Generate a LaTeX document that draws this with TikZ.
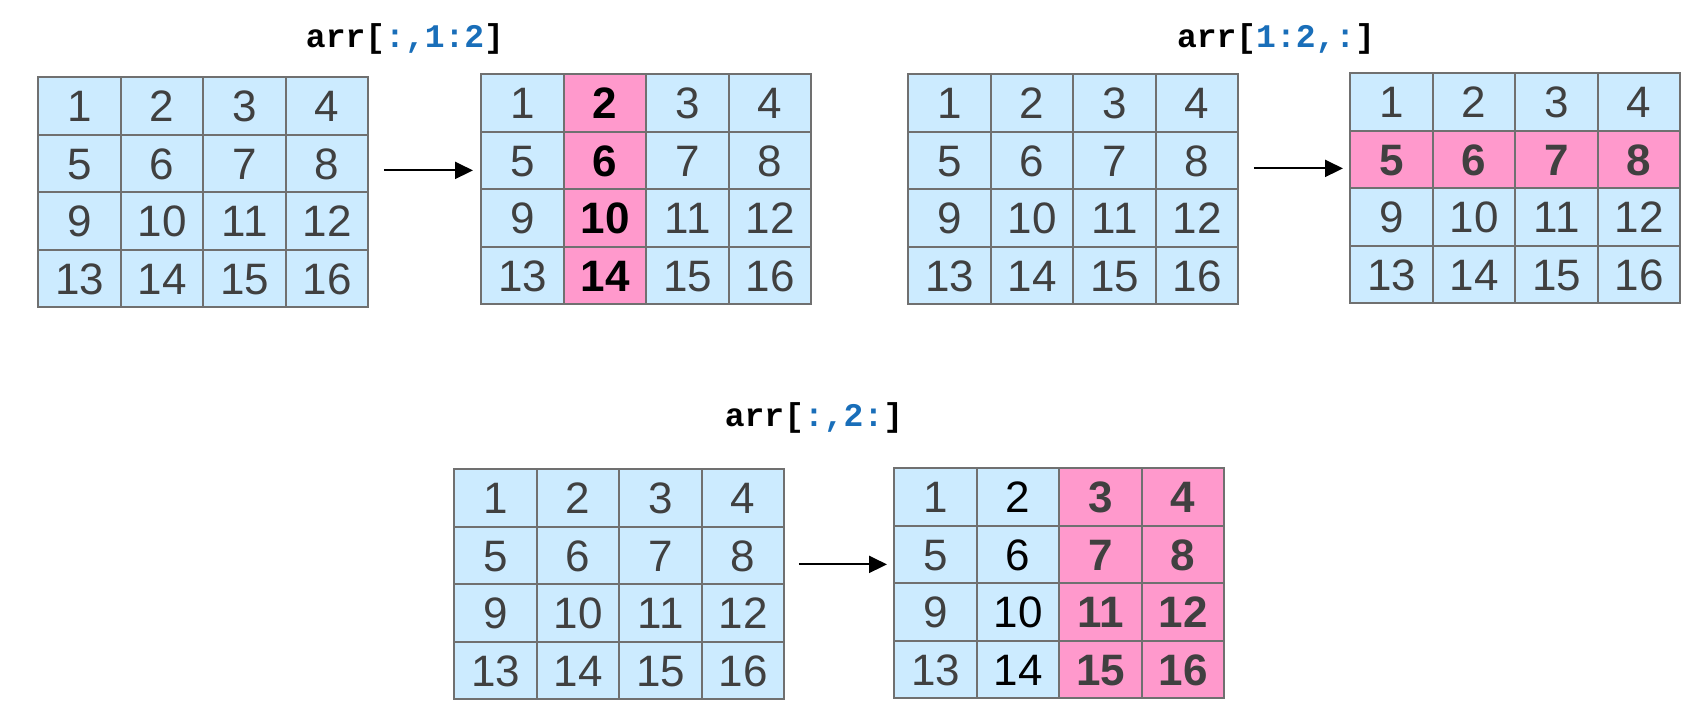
\documentclass[tikz,border=0pt]{standalone}
\usepackage{fontspec}
\setmainfont{Liberation Sans}
\newfontfamily\slicefont{Liberation Mono}
\usetikzlibrary{matrix,arrows.meta}
\definecolor{cellblue}{RGB}{204,235,255}
\definecolor{cellpink}{RGB}{255,153,204}
\definecolor{cellline}{RGB}{112,112,112}
\definecolor{numgray}{RGB}{64,64,64}
\definecolor{sliceblue}{RGB}{25,110,185}
\newcommand{\slicepart}[1]{\textcolor{sliceblue}{#1}}
\begin{document}
\begin{tikzpicture}[x=0.5pt, y=0.5pt,
		numgrid/.style={matrix of nodes, matrix anchor=north west, inner sep=0pt,
			column sep=-1pt, row sep=-1pt,
			nodes={draw=cellline, line width=1pt, fill=cellblue,
				minimum width=41.25pt, minimum height=28.75pt, inner sep=0pt,
				text height=15.8pt, text depth=0pt, anchor=center,
				text=numgray, font=\fontsize{22}{22}\selectfont}},
		pick/.style={fill=cellpink, font=\fontsize{22}{22}\selectfont\bfseries},
		pickdark/.style={pick, text=black},
		slice/.style={font=\fontsize{16.5}{16.5}\selectfont\slicefont\bfseries},
		slicearrow/.style={-{Triangle[length=9pt,width=8.5pt]}, line width=1pt}]
		\useasboundingbox (0,0) rectangle (1706,-726);
		% arr[:,1:2]
		\node[slice] (t1) at (405,-39) {arr[\slicepart{:,1:2}]};
		\matrix (a1) [numgrid] at (37,-76) {
			1 & 2 & 3 & 4 \\
			5 & 6 & 7 & 8 \\
			9 & 10 & 11 & 12 \\
			13 & 14 & 15 & 16 \\
		};
		\matrix (a2) [numgrid] at (480,-73) {
			1 & |[pickdark]| 2 & 3 & 4 \\
			5 & |[pickdark]| 6 & 7 & 8 \\
			9 & |[pickdark]| 10 & 11 & 12 \\
			13 & |[pickdark]| 14 & 15 & 16 \\
		};
		\coordinate (p1) at ([shift={(14,22)}]a1.east);
		\draw[slicearrow] (p1) -- ([xshift=-3.5pt]a2.west |- p1);
		% arr[1:2,:]
		\node[slice] (t2) at (1276,-39) {arr[\slicepart{1:2,:}]};
		\matrix (a3) [numgrid] at (907,-73) {
			1 & 2 & 3 & 4 \\
			5 & 6 & 7 & 8 \\
			9 & 10 & 11 & 12 \\
			13 & 14 & 15 & 16 \\
		};
		\matrix (a4) [numgrid] at (1349,-72) {
			1 & 2 & 3 & 4 \\
			|[pick]| 5 & |[pick]| 6 & |[pick]| 7 & |[pick]| 8 \\
			9 & 10 & 11 & 12 \\
			13 & 14 & 15 & 16 \\
		};
		\coordinate (p2) at ([shift={(14,21)}]a3.east);
		\draw[slicearrow] (p2) -- ([xshift=-3pt]a4.west |- p2);
		% arr[:,2:]
		\node[slice] (t3) at (814,-418) {arr[\slicepart{:,2:}]};
		\matrix (a5) [numgrid] at (453,-468) {
			1 & 2 & 3 & 4 \\
			5 & 6 & 7 & 8 \\
			9 & 10 & 11 & 12 \\
			13 & 14 & 15 & 16 \\
		};
		\matrix (a6) [numgrid] at (893,-467) {
			1 & |[text=black]| 2 & |[pick]| 3 & |[pick]| 4 \\
			5 & |[text=black]| 6 & |[pick]| 7 & |[pick]| 8 \\
			9 & |[text=black]| 10 & |[pick]| 11 & |[pick]| 12 \\
			13 & |[text=black]| 14 & |[pick]| 15 & |[pick]| 16 \\
		};
		\coordinate (p3) at ([shift={(13,20)}]a5.east);
		\draw[slicearrow] (p3) -- ([xshift=-3pt]a6.west |- p3);
\end{tikzpicture}
\end{document}
